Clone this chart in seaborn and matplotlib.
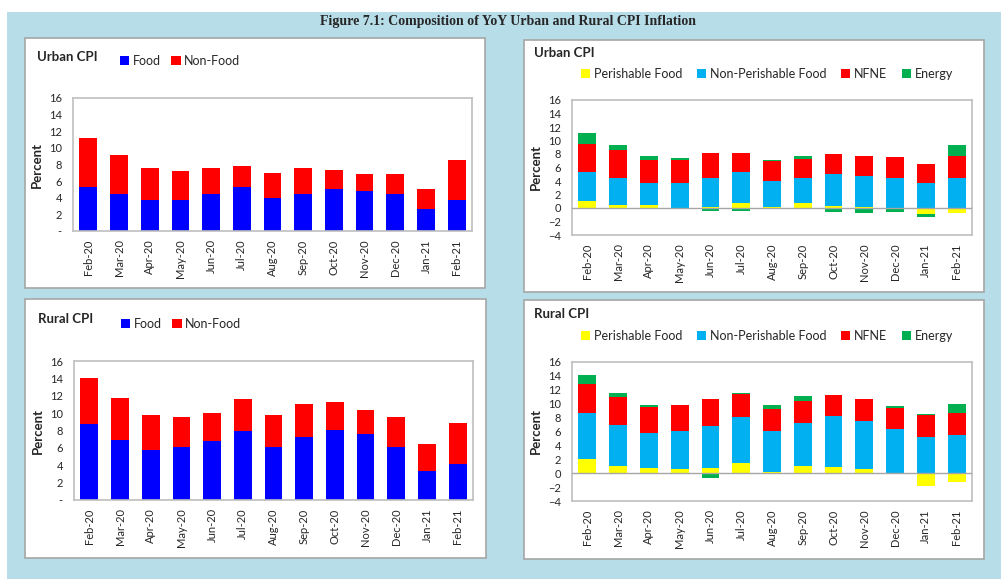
import matplotlib
matplotlib.use('Agg')
import matplotlib.pyplot as plt
from matplotlib.patches import Rectangle, Patch
import pandas as pd
import seaborn as sns

# Months on x axis
months = ['Feb-20', 'Mar-20', 'Apr-20', 'May-20', 'Jun-20', 'Jul-20', 'Aug-20',
          'Sep-20', 'Oct-20', 'Nov-20', 'Dec-20', 'Jan-21', 'Feb-21']

# Urban CPI: food / non-food contribution
urban_food = [5.3, 4.5, 3.7, 3.7, 4.5, 5.3, 4.0, 4.5, 5.0, 4.8, 4.5, 2.6, 3.7]
urban_nonfood = [5.9, 4.7, 3.9, 3.5, 3.1, 2.5, 3.0, 3.1, 2.3, 2.1, 2.4, 2.4, 4.8]

# Rural CPI: food / non-food contribution
rural_food = [8.7, 6.9, 5.8, 6.1, 6.8, 7.9, 6.1, 7.2, 8.1, 7.6, 6.1, 3.3, 4.2]
rural_nonfood = [5.4, 4.8, 4.0, 3.5, 3.2, 3.7, 3.7, 3.9, 3.2, 2.8, 3.4, 3.2, 4.7]

# Urban CPI: detailed breakdown
urban_perish = [1.0, 0.5, 0.4, 0.05, 0.1, 0.8, 0.15, 0.7, 0.35, 0.15, 0.0, -0.9, -0.8]
urban_nonperish = [4.3, 4.0, 3.3, 3.65, 4.4, 4.5, 3.85, 3.8, 4.7, 4.55, 4.5, 3.7, 4.5]
urban_nfne = [4.25, 4.15, 3.4, 3.45, 3.6, 2.8, 2.95, 2.8, 2.9, 2.95, 3.0, 2.8, 3.25]
urban_energy = [1.5, 0.65, 0.55, 0.2, -0.45, -0.45, 0.2, 0.4, -0.65, -0.8, -0.65, -0.5, 1.55]

# Rural CPI: detailed breakdown
rural_perish = [2.1, 1.1, 0.8, 0.65, 0.75, 1.45, 0.15, 1.1, 0.9, 0.65, 0.05, -1.8, -1.3]
rural_nonperish = [6.6, 5.8, 5.0, 5.45, 6.0, 6.65, 5.95, 6.15, 7.3, 6.9, 6.25, 5.2, 5.5]
rural_nfne = [4.2, 4.0, 3.7, 3.7, 3.9, 3.35, 3.2, 3.15, 3.05, 3.1, 3.15, 3.2, 3.15]
rural_energy = [1.3, 0.7, 0.35, 0.0, -0.65, 0.15, 0.5, 0.7, 0.0, 0.0, 0.2, 0.15, 1.3]

COLORS = {
    'Food': '#0000ff', 'Non-Food': '#ff0000',
    'Perishable Food': '#ffff00', 'Non-Perishable Food': '#00b0f0',
    'NFNE': '#ff0000', 'Energy': '#00b050',
}

sns.set_theme(style='white')
plt.rcParams['font.family'] = ['Lato', 'DejaVu Sans']

W, H = 1001, 579
fig = plt.figure(figsize=(W / 100, H / 100), dpi=100)


def fx(px):
    return px / W


def fy(py):
    return 1 - py / H


# light blue background + white panels (behind the axes)
fig.patches.append(Rectangle((fx(7), 0), fx(W - 7), fy(12), transform=fig.transFigure,
                             facecolor='#b7dde8', edgecolor='none', zorder=-5))
for (x0, y0, x1, y1) in [(25, 38, 485, 288), (524, 40, 984, 292),
                         (25, 299, 486, 558), (524, 300, 984, 559)]:
    fig.patches.append(Rectangle((fx(x0), fy(y1)), fx(x1 - x0), fy(y0) - fy(y1),
                                 transform=fig.transFigure, facecolor='white',
                                 edgecolor='#a6a6a6', linewidth=1.2, zorder=-4))

fig.text(fx(508), fy(22), 'Figure 7.1: Composition of YoY Urban and Rural CPI Inflation',
         ha='center', va='center', fontsize=10, fontweight='bold',
         family='Liberation Serif')


def stacked(ax, series):
    # build long table with Excel-like stacking (positives up, negatives down)
    rows = []
    pos = [0.0] * len(months)
    neg = [0.0] * len(months)
    for name, vals in series:
        for i, v in enumerate(vals):
            if v >= 0:
                b = pos[i]
                pos[i] += v
            else:
                b = neg[i]
                neg[i] += v
            rows.append({'month': months[i], 'series': name, 'value': v, 'bottom': b})
    df = pd.DataFrame(rows)
    for name, _ in series:
        sub = df[df['series'] == name]
        sns.barplot(data=sub, x='month', y='value', order=months, bottom=sub['bottom'].values,
                    color=COLORS[name], saturation=1, width=0.58, linewidth=0,
                    errorbar=None, ax=ax, zorder=2)


def style_axes(ax, ymin, yticks, dash_zero):
    ax.set_ylim(ymin, 16)
    ax.set_yticks(yticks)
    if dash_zero:
        ax.set_yticklabels(['-' if t == 0 else str(t) for t in yticks])
    ax.set_xlabel('')
    ax.set_ylabel('Percent', fontsize=9.5, fontweight='bold', labelpad=4)
    ax.tick_params(axis='both', length=0, labelsize=8, pad=8)
    ax.tick_params(axis='x', rotation=90, pad=6)
    for s in ax.spines.values():
        s.set_color('#bfbfbf')
        s.set_linewidth(1.2)
    ax.set_facecolor('white')


def panel_legend(names, x, y, spacing):
    handles = [Patch(facecolor=COLORS[n], edgecolor='none') for n in names]
    fig.legend(handles, names, loc='center left', bbox_to_anchor=(fx(x), fy(y)),
               ncol=len(names), frameon=False, fontsize=9, handlelength=0.75,
               handleheight=0.75, handletextpad=0.3, columnspacing=spacing,
               borderpad=0, borderaxespad=0)


# top-left: Urban food / non-food
ax1 = fig.add_axes([fx(73), fy(231), fx(399), fy(98) - fy(231)])
stacked(ax1, [('Food', urban_food), ('Non-Food', urban_nonfood)])
style_axes(ax1, 0, list(range(0, 17, 2)), True)
fig.text(fx(37), fy(57), 'Urban CPI', fontsize=9.5, fontweight='bold', va='center')
panel_legend(['Food', 'Non-Food'], 120, 61, 0.8)

# bottom-left: Rural food / non-food
ax3 = fig.add_axes([fx(74), fy(500), fx(399), fy(361) - fy(500)])
stacked(ax3, [('Food', rural_food), ('Non-Food', rural_nonfood)])
style_axes(ax3, 0, list(range(0, 17, 2)), True)
fig.text(fx(38), fy(319), 'Rural CPI', fontsize=9.5, fontweight='bold', va='center')
panel_legend(['Food', 'Non-Food'], 121, 324, 0.8)

# top-right: Urban breakdown
ax2 = fig.add_axes([fx(572), fy(235), fx(400), fy(100) - fy(235)])
stacked(ax2, [('Perishable Food', urban_perish), ('Non-Perishable Food', urban_nonperish),
              ('NFNE', urban_nfne), ('Energy', urban_energy)])
style_axes(ax2, -4, list(range(-4, 17, 2)), False)
ax2.axhline(0, color='#a6a6a6', linewidth=1, zorder=3)
fig.text(fx(534), fy(53), 'Urban CPI', fontsize=9.5, fontweight='bold', va='center')
panel_legend(['Perishable Food', 'Non-Perishable Food', 'NFNE', 'Energy'], 581, 74, 1.15)

# bottom-right: Rural breakdown
ax4 = fig.add_axes([fx(572), fy(501), fx(400), fy(362) - fy(501)])
stacked(ax4, [('Perishable Food', rural_perish), ('Non-Perishable Food', rural_nonperish),
              ('NFNE', rural_nfne), ('Energy', rural_energy)])
style_axes(ax4, -4, list(range(-4, 17, 2)), False)
ax4.axhline(0, color='#a6a6a6', linewidth=1, zorder=3)
fig.text(fx(534), fy(314), 'Rural CPI', fontsize=9.5, fontweight='bold', va='center')
panel_legend(['Perishable Food', 'Non-Perishable Food', 'NFNE', 'Energy'], 581, 336, 1.15)

fig.savefig('out.png', dpi=100, facecolor='white')
